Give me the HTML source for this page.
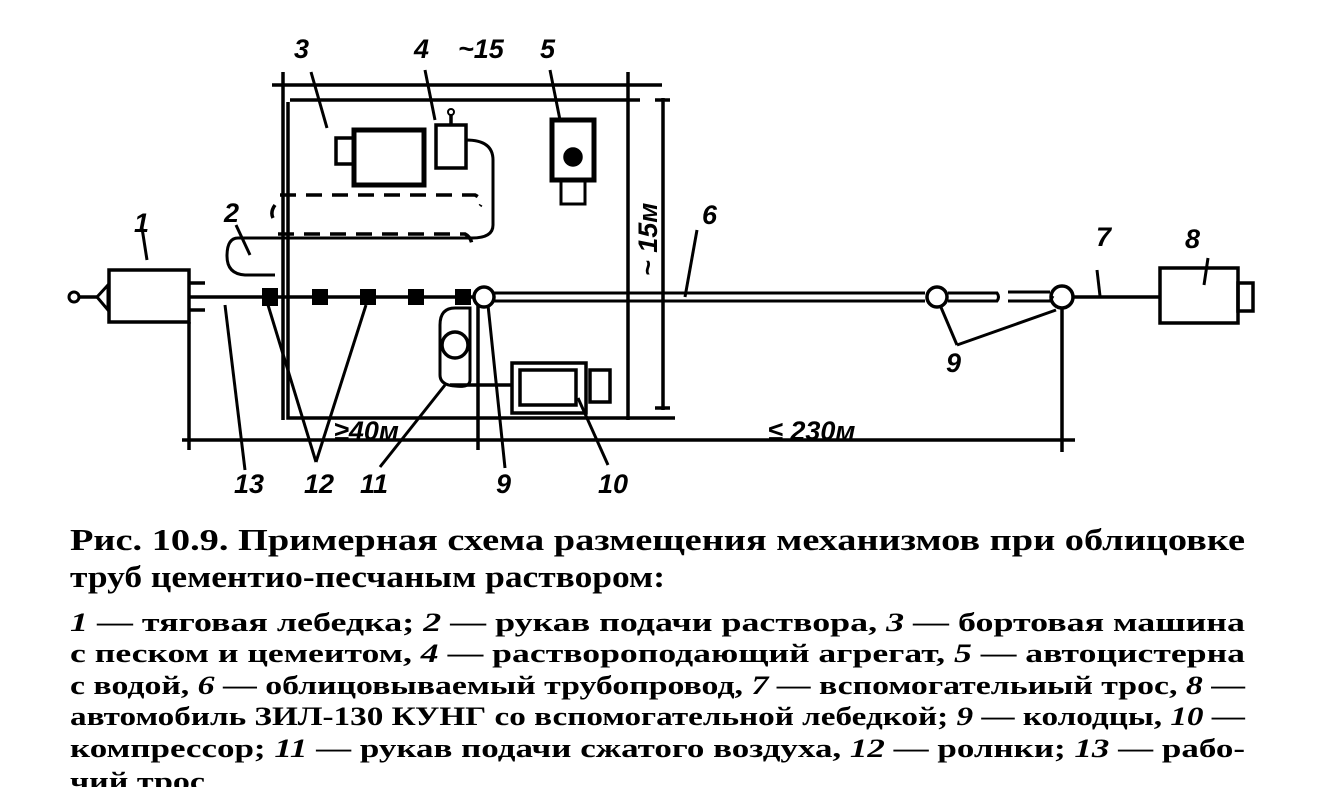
<!DOCTYPE html>
<html><head><meta charset="utf-8"><style>
html,body{margin:0;padding:0;background:#fff;}
svg{display:block}
text{font-family:"Liberation Sans","DejaVu Sans",sans-serif;fill:#000}
.n{font-style:italic;font-weight:bold;font-size:27px}
text.c{font-family:"Liberation Serif","DejaVu Serif",serif;font-weight:bold}
</style></head><body>
<svg width="1327" height="787" viewBox="0 0 1327 787" xmlns="http://www.w3.org/2000/svg">
<g fill="none" stroke="#000" stroke-width="3.5">
<line x1="272" y1="85" x2="662" y2="85"/>
<line x1="283" y1="72" x2="283" y2="420"/>
<line x1="628" y1="72" x2="628" y2="420"/>
<path d="M290 100 H640 M288 102 V418 H675"/>
<line x1="663" y1="98" x2="663" y2="410"/>
<line x1="655" y1="100" x2="670" y2="100"/>
<line x1="655" y1="408" x2="670" y2="408"/>
<rect x="354" y="130" width="70" height="55" stroke-width="5"/>
<rect x="336" y="138" width="18" height="26"/>
<rect x="436" y="125" width="30" height="43"/>
<circle cx="451" cy="112" r="3" stroke-width="2"/>
<line x1="451" y1="115" x2="451" y2="125"/>
<path d="M466 140 Q493 140 493 160 V225 Q493 238 472 238 H238 Q227 238 227 256 Q227 274 245 275 H275" stroke-width="3"/>
<path d="M280 195 H475 Q485 200 480 206 M275 205 Q270 212 273 218 M278 234 H465 Q473 238 472 250" stroke-dasharray="16 10" stroke-width="3.5"/>
<rect x="552" y="120" width="42" height="60" stroke-width="5"/>
<circle cx="573" cy="157" r="8" fill="#000"/>
<rect x="561" y="180" width="24" height="24" stroke-width="3"/>
<circle cx="74" cy="297" r="5" stroke-width="3"/>
<line x1="79" y1="297" x2="97" y2="297"/>
<path d="M97 297 L108 285 V310 Z" stroke-width="3"/>
<rect x="109" y="270" width="80" height="52" stroke-width="3.5"/>
<line x1="189" y1="283" x2="205" y2="283"/><line x1="189" y1="310" x2="205" y2="310"/>
<line x1="189" y1="297" x2="475" y2="297" stroke-width="3.5"/>
<path d="M494 293 H925 M494 301 H925 M948 293 H997 Q1000 297 997 301 H948 M1008 292 H1050 M1008 301 H1050 L1053 296 " stroke-width="3"/>
<line x1="1073" y1="297" x2="1160" y2="297"/>
<circle cx="484" cy="297" r="10"/>
<circle cx="937" cy="297" r="10"/>
<circle cx="1062" cy="297" r="11"/>
<g fill="#000" stroke="none">
<rect x="262" y="288" width="16" height="18"/><rect x="312" y="289" width="16" height="16"/><rect x="360" y="289" width="16" height="16"/><rect x="408" y="289" width="16" height="16"/><rect x="455" y="289" width="16" height="16"/>
</g>
<rect x="1160" y="268" width="78" height="55" stroke-width="3.5"/>
<rect x="1238" y="283" width="15" height="28"/>
<path d="M440 325 Q440 308 455 308 H470 V380 Q470 388 455 386 Q440 385 440 375 Z" stroke-width="3"/>
<circle cx="455" cy="345" r="13"/>
<path d="M450 385 H512"/>
<rect x="512" y="363" width="74" height="50"/>
<rect x="520" y="370" width="56" height="35"/>
<rect x="590" y="370" width="20" height="32"/>
<line x1="182" y1="440" x2="1075" y2="440"/>
<line x1="189" y1="322" x2="189" y2="450"/>
<line x1="478" y1="305" x2="478" y2="450"/>
<line x1="1062" y1="308" x2="1062" y2="452"/>
<g stroke-width="3">
<line x1="311" y1="72" x2="327" y2="128"/>
<line x1="425" y1="70" x2="435" y2="120"/>
<line x1="550" y1="70" x2="560" y2="120"/>
<line x1="236" y1="225" x2="250" y2="255"/>
<line x1="142" y1="228" x2="147" y2="260"/>
<line x1="697" y1="230" x2="685" y2="297"/>
<line x1="1097" y1="270" x2="1100" y2="296"/>
<line x1="1208" y1="258" x2="1204" y2="285"/>
<line x1="225" y1="305" x2="245" y2="470"/>
<line x1="268" y1="305" x2="316" y2="462"/>
<line x1="366" y1="305" x2="316" y2="462"/>
<line x1="445" y1="385" x2="380" y2="467"/>
<line x1="488" y1="305" x2="505" y2="468"/>
<line x1="578" y1="398" x2="608" y2="465"/>
<line x1="940" y1="305" x2="957" y2="345"/>
<line x1="1056" y1="310" x2="957" y2="345"/>
</g>
</g>
<text class="n" x="294" y="58">3</text>
<text class="n" x="414" y="58">4</text>
<text class="n" x="458" y="58">~15</text>
<text class="n" x="540" y="58">5</text>
<text class="n" x="134" y="232">1</text>
<text class="n" x="224" y="222">2</text>
<text class="n" x="702" y="224">6</text>
<text class="n" x="1096" y="246">7</text>
<text class="n" x="1185" y="248">8</text>
<text class="n" x="946" y="372">9</text>
<text class="n" transform="translate(657 276) rotate(-90)" x="0" y="0">~ 15м</text>
<text class="n" x="334" y="440">≥40м</text>
<text class="n" x="768" y="440">≤ 230м</text>
<text class="n" x="234" y="493">13</text>
<text class="n" x="304" y="493">12</text>
<text class="n" x="360" y="493">11</text>
<text class="n" x="496" y="493">9</text>
<text class="n" x="598" y="493">10</text>
<text class="c" x="70" y="550" font-size="31" textLength="1175" lengthAdjust="spacingAndGlyphs">Рис. 10.9. Примерная схема размещения механизмов при облицовке</text>
<text class="c" x="70" y="587" font-size="31" textLength="595" lengthAdjust="spacingAndGlyphs">труб цементио-песчаным раствором:</text>
<g font-size="26">
<text class="c" x="70" y="631" textLength="1175" lengthAdjust="spacingAndGlyphs"><tspan font-style="italic">1</tspan> — тяговая лебедка; <tspan font-style="italic">2</tspan> — рукав подачи раствора, <tspan font-style="italic">3</tspan> — бортовая машина</text>
<text class="c" x="70" y="662" textLength="1175" lengthAdjust="spacingAndGlyphs">с песком и цемеитом, <tspan font-style="italic">4</tspan> — раствороподающий агрегат, <tspan font-style="italic">5</tspan> — автоцистерна</text>
<text class="c" x="70" y="694" textLength="1175" lengthAdjust="spacingAndGlyphs">с водой, <tspan font-style="italic">6</tspan> — облицовываемый трубопровод, <tspan font-style="italic">7</tspan> — вспомогательиый трос, <tspan font-style="italic">8</tspan> —</text>
<text class="c" x="70" y="725" textLength="1175" lengthAdjust="spacingAndGlyphs">автомобиль ЗИЛ-130 КУНГ со вспомогательной лебедкой; <tspan font-style="italic">9</tspan> — колодцы, <tspan font-style="italic">10</tspan> —</text>
<text class="c" x="70" y="757" textLength="1175" lengthAdjust="spacingAndGlyphs">компрессор; <tspan font-style="italic">11</tspan> — рукав подачи сжатого воздуха, <tspan font-style="italic">12</tspan> — ролнки; <tspan font-style="italic">13</tspan> — рабо-</text>
<text class="c" x="70" y="790" textLength="135" lengthAdjust="spacingAndGlyphs">чий трос</text>
</g>
</svg>
</body></html>
